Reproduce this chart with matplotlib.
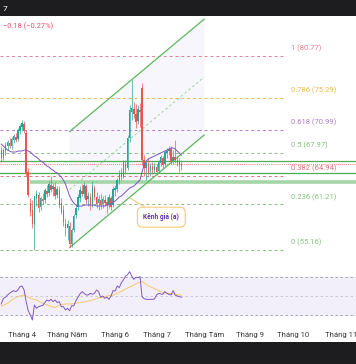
import matplotlib
matplotlib.use("Agg")
import matplotlib.pyplot as plt
import numpy as np
import pandas as pd
from matplotlib.patches import Rectangle, Polygon

plt.rcParams['font.family'] = ['Roboto', 'DejaVu Sans']

# ---------------- data ----------------
start_date = '2024-03-18'
end_axis_date = '2024-11-29'

opens = [68.36, 67.44, 68.23, 68.89, 69.29, 68.89, 69.68, 70.08, 69.81, 70.87,
         71.40, 71.79, 70.61, 65.46, 61.37, 60.44, 58.59, 62.03, 62.42, 60.84,
         61.89, 61.76, 62.95, 62.69, 63.74, 63.21, 63.48, 62.42, 63.08, 61.37,
         60.44, 58.59, 58.07, 58.33, 55.95, 57.80, 59.78, 60.84, 62.03, 62.95,
         62.55, 63.61, 61.89, 62.16, 61.10, 63.35, 62.16, 61.37, 61.76, 61.23,
         61.76, 61.50, 61.10, 62.03, 61.10, 63.08, 63.21, 64.27, 65.19, 64.93,
         66.51, 65.99, 69.95, 73.38, 73.77, 73.11, 72.19, 73.64, 76.55, 67.04,
         65.99, 66.51, 65.59, 66.12, 65.72, 66.12, 65.59, 66.65, 67.31, 66.51,
         67.97, 68.23, 68.49, 66.91, 67.44, 67.04, 66.78, 66.51]
highs = [68.89, 68.63, 69.42, 69.68, 69.95, 70.08, 70.47, 70.61, 71.27, 71.79,
         72.32, 72.19, 71.00, 65.99, 62.03, 61.76, 59.12, 63.08, 62.82, 62.29,
         62.69, 63.35, 63.74, 64.27, 64.93, 64.01, 64.14, 63.61, 63.61, 62.03,
         61.10, 59.39, 59.12, 58.86, 58.07, 59.91, 61.10, 62.55, 63.61, 63.87,
         64.14, 63.87, 62.82, 62.69, 64.27, 63.74, 62.82, 62.42, 62.55, 62.29,
         62.42, 62.16, 62.55, 62.29, 63.61, 63.74, 64.67, 65.72, 65.99, 67.04,
         67.04, 70.34, 74.30, 77.60, 74.70, 74.43, 74.30, 74.57, 77.21, 67.70,
         67.04, 67.31, 66.65, 66.78, 66.65, 66.51, 67.04, 67.70, 67.57, 68.36,
         68.63, 68.89, 68.89, 68.36, 69.68, 67.57, 67.31, 67.04]
lows = [66.78, 67.04, 67.70, 68.36, 68.63, 68.49, 69.29, 69.42, 69.55, 70.47,
        70.87, 70.61, 64.93, 62.16, 59.65, 58.07, 55.16, 60.97, 60.18, 60.44,
        61.23, 61.37, 62.16, 62.29, 62.82, 62.29, 61.89, 62.03, 60.71, 59.91,
        58.33, 57.01, 56.48, 55.56, 55.56, 57.54, 59.39, 60.44, 61.50, 62.29,
        62.03, 61.23, 60.97, 60.44, 60.84, 61.76, 60.71, 60.44, 60.57, 60.71,
        60.97, 60.05, 60.71, 60.44, 60.84, 62.29, 62.82, 63.87, 64.40, 64.67,
        65.19, 65.72, 69.42, 72.32, 72.59, 71.27, 71.79, 71.40, 66.38, 64.93,
        64.40, 65.06, 64.93, 65.19, 65.33, 65.06, 65.33, 66.25, 65.99, 66.25,
        67.31, 67.70, 66.51, 66.51, 66.65, 66.25, 65.46, 65.72]
closes = [67.31, 68.36, 69.02, 69.42, 68.89, 69.81, 70.21, 69.68, 71.00, 71.53,
          71.93, 70.87, 65.19, 62.42, 60.18, 58.59, 62.29, 62.55, 60.71, 62.03,
          61.63, 63.08, 62.55, 63.87, 63.08, 63.61, 62.29, 63.21, 61.10, 60.18,
          58.86, 58.07, 58.59, 55.95, 57.80, 59.65, 60.71, 62.16, 63.08, 62.55,
          63.74, 61.76, 62.29, 60.97, 63.61, 62.16, 61.23, 61.89, 61.10, 61.89,
          61.37, 61.10, 62.16, 60.84, 63.21, 63.35, 64.40, 65.33, 64.80, 66.78,
          65.72, 69.95, 73.64, 73.91, 73.11, 72.06, 73.77, 73.38, 67.04, 65.99,
          66.65, 65.46, 66.25, 65.72, 66.25, 65.46, 66.78, 67.44, 66.38, 68.10,
          68.23, 68.49, 66.78, 67.44, 67.04, 66.65, 66.38, 66.25]

ma_price = [69.15, 68.89, 68.63, 68.36, 68.23, 68.10, 68.10, 68.10, 68.23, 68.23,
            68.23, 68.36, 68.36, 68.23, 68.10, 67.83, 67.57, 67.44, 67.17, 66.91,
            66.78, 66.51, 66.25, 66.12, 65.85, 65.72, 65.46, 65.33, 65.06, 64.80,
            64.40, 63.87, 63.08, 62.29, 61.76, 61.37, 61.10, 60.97, 60.97, 60.97,
            61.10, 61.10, 61.10, 61.10, 61.10, 61.10, 60.97, 60.97, 60.97, 60.97,
            60.97, 61.10, 61.10, 61.23, 61.50, 61.63, 61.89, 62.16, 62.29, 62.55,
            62.82, 63.08, 63.35, 63.48, 63.61, 63.87, 64.14, 64.40, 65.46, 66.38,
            66.91, 67.17, 67.31, 67.44, 67.57, 67.70, 67.83, 67.97, 68.10, 68.23,
            68.36, 68.49, 68.63, 68.63, 68.49, 68.23, 67.97, 67.70]

rsi = [41.4, 47.5, 48.6, 51.1, 52.9, 54.7, 55.8, 54.7, 56.5, 60.1,
       60.8, 56.5, 43.9, 34.1, 29.5, 24.1, 40.3, 36.7, 38.5, 39.2,
       39.9, 42.8, 45.7, 44.6, 46.4, 43.9, 45.7, 42.8, 43.9, 38.5,
       38.5, 34.9, 36.7, 34.1, 39.5, 39.2, 44.6, 48.6, 52.2, 54.7,
       52.9, 51.1, 51.1, 52.9, 51.8, 52.9, 56.5, 54.7, 48.6, 50.0,
       47.5, 48.6, 46.4, 50.0, 55.8, 55.4, 60.8, 59.0, 64.4, 67.3,
       71.6, 73.1, 76.3, 71.6, 68.0, 70.2, 69.8, 70.9, 49.3, 47.1,
       46.4, 46.4, 46.4, 46.4, 46.8, 51.1, 52.9, 52.2, 51.8, 54.7,
       52.9, 51.8, 51.1, 55.8, 51.1, 50.0, 49.3, 48.6]
rsi_ma = [39.2, 39.9, 41.0, 42.4, 43.9, 45.7, 47.1, 48.2, 49.3, 50.0,
          50.4, 51.1, 50.4, 48.6, 47.5, 46.8, 46.4, 45.7, 44.6, 43.5,
          42.4, 41.4, 40.6, 39.5, 38.8, 38.1, 37.7, 38.8, 39.9, 40.6,
          41.0, 41.4, 41.4, 41.4, 41.4, 41.7, 42.1, 42.4, 42.8, 43.2,
          43.5, 43.9, 44.6, 45.0, 45.7, 46.4, 47.1, 47.8, 48.6, 48.9,
          49.3, 50.0, 50.4, 50.7, 51.1, 51.8, 52.9, 54.0, 55.0, 56.1,
          57.6, 58.6, 59.7, 60.8, 61.9, 63.0, 64.1, 64.8, 65.5, 64.4,
          62.3, 61.2, 60.1, 59.0, 57.9, 56.8, 55.8, 54.7, 54.0, 53.6,
          52.9, 52.5, 52.5, 52.2, 51.8, 51.4, 51.1, 50.7]

fib_ratios = ['1', '0.786', '0.618', '0.5', '0.382', '0.236', '0']
fib_prices = [80.77, 75.29, 70.99, 67.97, 64.94, 61.21, 55.16]
fib_colors = ['#e57f94', '#f2b84b', '#b37cc8', '#86c17f', '#e5707d', '#86c17f', '#86c17f']

channel_bars = [33, 98]
channel_upper = [70.79, 85.64]
channel_lower = [55.49, 70.34]
channel_mid = [63.14, 77.99]

green_levels = [66.95, 65.39]
zone_level = 64.17
last_price = 66.47

month_labels = ['Tháng 4', 'Tháng Năm', 'Tháng 6', 'Tháng 7', 'Tháng Tám',
                'Tháng 9', 'Tháng 10', 'Tháng 11']

# ---------------- figure ----------------
W, H = 356, 364
fig = plt.figure(figsize=(W / 100, H / 100), dpi=100)
fig.patch.set_facecolor('white')

def fy(px):
    return 1 - px / H

# dark bars
fig.patches.append(Rectangle((0, fy(16)), 1, 16 / H, transform=fig.transFigure,
                             facecolor='#1d1d1f', edgecolor='none', zorder=0))
fig.patches.append(Rectangle((0, 0), 1, 22 / H, transform=fig.transFigure,
                             facecolor='#1d1d1f', edgecolor='none', zorder=0))
fig.text(3 / W, fy(9), '7', color='white', fontsize=6, va='center', ha='left')
fig.text(3 / W, fy(26), '\u22120.18 (\u22120.27%)', color='#e0526a', fontsize=5.4,
         va='center', ha='left')

bw = 2.07  # pixels per bar
x0_idx = 10 - 22 / bw
x1_idx = 10 + (W - 22) / bw

# ---------- main pane ----------
top_px, bot_px = 17, 262
ax = fig.add_axes([0, fy(bot_px), 1, (bot_px - top_px) / H])
ax.set_xlim(x0_idx, x1_idx)
ax.set_ylim(53.58, 85.92)
ax.axis('off')

n = len(closes)
idx = np.arange(n)

# channel fill & lines
poly = Polygon([[channel_bars[0], channel_lower[0]], [channel_bars[1], channel_lower[1]],
                [channel_bars[1], channel_upper[1]], [channel_bars[0], channel_upper[0]]],
               closed=True, facecolor='#f7f6fc', edgecolor='none', zorder=0)
ax.add_patch(poly)
ax.plot(channel_bars, channel_upper, color='#5cb85c', lw=0.9, zorder=3)
ax.plot(channel_bars, channel_lower, color='#5cb85c', lw=0.9, zorder=3)
ax.plot(channel_bars, channel_mid, color='#8fcf8f', lw=0.6, ls=(0, (3, 3)), zorder=3)

# fib levels
fib_end = 10 + (286 - 22) / bw
fib_label_x = 10 + (291 - 22) / bw
for r, p, c in zip(fib_ratios, fib_prices, fib_colors):
    ax.plot([x0_idx, fib_end], [p, p], color=c, lw=0.7, ls=(0, (3, 3)), zorder=1)
    ax.annotate(f'{r} ({p:.2f})', xy=(fib_label_x, p), xytext=(0, 5.4),
                textcoords='offset points', color=c, fontsize=5.5, va='center', ha='left')

# horizontal levels
for lv in green_levels:
    ax.axhline(lv, color='#4caf50', lw=0.9, zorder=2)
ax.plot([10 + (30 - 22) / bw, x1_idx], [zone_level, zone_level], color='#a5d6a7',
        lw=2.6, zorder=2, solid_capstyle='butt')
ax.axhline(last_price, color='#ef5350', lw=0.6, ls=(0, (1, 1.5)), zorder=2)

# candles
o = np.array(opens); c = np.array(closes); h = np.array(highs); l = np.array(lows)
up = c >= o
cols = np.where(up, '#26a69a', '#ef5350')
ax.vlines(idx, l, h, colors=cols, lw=0.5, zorder=4)
body_lo = np.minimum(o, c)
body_h = np.maximum(np.abs(c - o), 0.08)
ax.bar(idx, body_h, bottom=body_lo, width=0.72, color=cols, edgecolor='none', zorder=5)

# moving average
ax.plot(idx, ma_price, color='#7e57c2', lw=0.7, zorder=6)

# callout
ax.annotate('Kênh giá (a)', xy=(62.2, 62.03), xytext=(77.3, 59.5),
            color='#5e35b1', fontsize=4.8, fontweight='bold', ha='center', va='center',
            bbox=dict(boxstyle='round,pad=0.9,rounding_size=0.8', fc='#fffdf7',
                      ec='#f2c46b', lw=0.7),
            arrowprops=dict(arrowstyle='-', color='#e8c27a', lw=0.7,
                            shrinkA=0, shrinkB=0), zorder=7)

# ---------- RSI pane ----------
r_top, r_bot = 265, 322
axr = fig.add_axes([0, fy(r_bot), 1, (r_bot - r_top) / H])
axr.set_xlim(x0_idx, x1_idx)
axr.set_ylim(50 + (296 - r_bot) * 1.081, 50 + (296 - r_top) * 1.081)
for s in axr.spines.values():
    s.set_visible(False)
axr.set_yticks([])
axr.axhspan(30, 70, color='#f3effa', zorder=0)
for lv, col in [(70, '#9a9ca6'), (50, '#c4c5cc'), (30, '#9a9ca6')]:
    axr.axhline(lv, color=col, lw=0.6, ls=(0, (3, 3)), zorder=1)
axr.plot(idx, rsi_ma, color='#f5c96a', lw=0.7, zorder=2)
axr.plot(idx, rsi, color='#7e57c2', lw=0.7, zorder=3)

dates = pd.bdate_range(start_date, end_axis_date)
months = dates.to_period('M')
tick_pos = [i for i in range(1, len(dates)) if months[i] != months[i - 1]]
axr.set_xticks(tick_pos[:len(month_labels)])
axr.set_xticklabels(month_labels, fontsize=5.6, color='#3a3a3c')
axr.tick_params(axis='x', length=0, pad=7)

fig.savefig('out.png', dpi=100, facecolor='white')
